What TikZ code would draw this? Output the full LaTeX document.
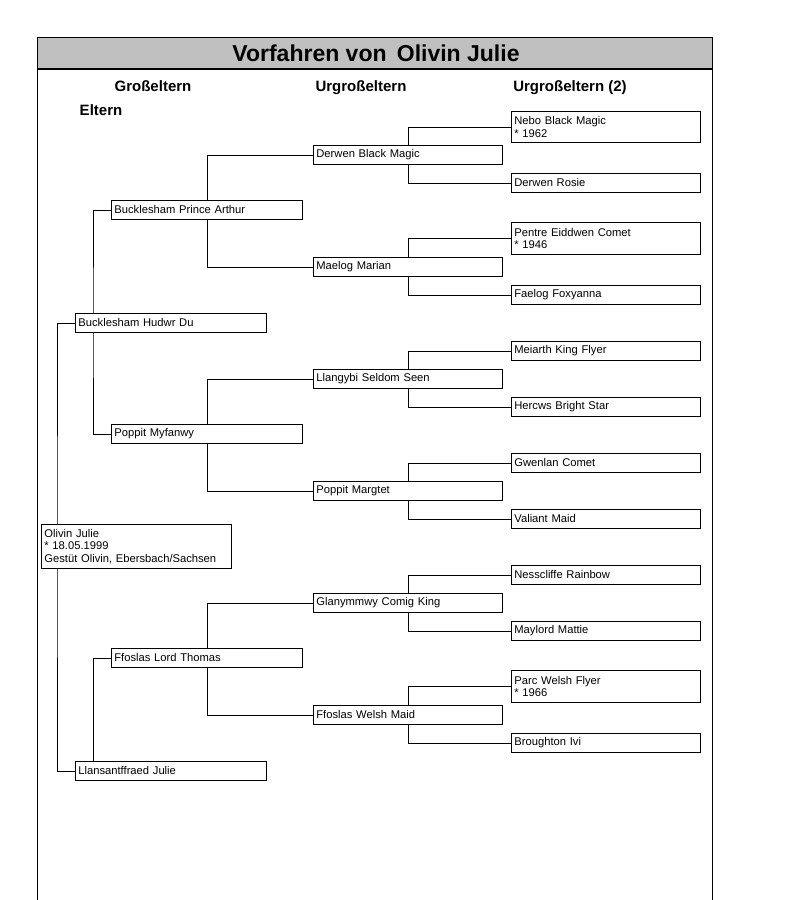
\documentclass[tikz,border=0pt]{standalone}
\usepackage{fontspec}
\setmainfont{Liberation Sans}
\usetikzlibrary{backgrounds}
\tikzset{
  x=1pt,y=-1pt,
  horse/.style={draw,line width=0.8pt,fill=white,anchor=north west,inner xsep=3pt,inner ysep=2pt,
    align=left,font=\fontsize{11.2}{12.5}\selectfont,minimum height=19pt},
  w190/.style={text width=184pt},
  w189/.style={text width=183pt},
  w191/.style={text width=185pt},
  conn/.style={line width=0.8pt},
  header/.style={font=\bfseries\fontsize{15}{17}\selectfont,anchor=base},
}
\begin{document}
\begin{tikzpicture}
\useasboundingbox (0,0) rectangle (793,900);
% frame and title bar
\path[fill={rgb,255:red,192;green,192;blue,192}] (37,37) rectangle (712,69);
\draw[line width=1pt] (37,900) -- (37,37) -- (712,37) -- (712,900);
\draw[line width=2pt] (37,69) -- (712,69);
\node[font=\bfseries\fontsize{23}{26}\selectfont] (title) at (376,53) {Vorfahren von\, Olivin Julie};
\node[header] (h1) at (153,91) {Großeltern};
\node[header] (h2) at (361,91) {Urgroßeltern};
\node[header] (h3) at (570,91) {Urgroßeltern (2)};
\node[header] (h0) at (101,115) {Eltern};

% column 0
\node[horse,w190,minimum height=44pt] (p0) at (41,524) {Olivin Julie\\{}* 18.05.1999\\{}Gestüt Olivin, Ebersbach/Sachsen};
% column 1
\node[horse,w191] (s1) at (75,313) {Bucklesham Hudwr Du};
\node[horse,w191] (d1) at (75,761) {Llansantffraed Julie};
% column 2
\node[horse,w191] (ss2) at (111,200) {Bucklesham Prince Arthur};
\node[horse,w191] (sd2) at (111,424) {Poppit Myfanwy};
\node[horse,w191] (ds2) at (111,648) {Ffoslas Lord Thomas};
% column 3
\node[horse,w189] (a3) at (313,145) {Derwen Black Magic};
\node[horse,w189] (b3) at (313,257) {Maelog Marian};
\node[horse,w189] (c3) at (313,369) {Llangybi Seldom Seen};
\node[horse,w189] (d3) at (313,481) {Poppit Margtet};
\node[horse,w189] (e3) at (313,593) {Glanymmwy Comig King};
\node[horse,w189] (f3) at (313,705) {Ffoslas Welsh Maid};
% column 4
\node[horse,w189,minimum height=31pt] (a4) at (511,111) {Nebo Black Magic\\{}* 1962};
\node[horse,w189] (b4) at (511,173) {Derwen Rosie};
\node[horse,w189,minimum height=32pt] (c4) at (511,222) {Pentre Eiddwen Comet\\{}* 1946};
\node[horse,w189] (d4) at (511,285) {Faelog Foxyanna};
\node[horse,w189] (e4) at (511,341) {Meiarth King Flyer};
\node[horse,w189] (f4) at (511,397) {Hercws Bright Star};
\node[horse,w189] (g4) at (511,453) {Gwenlan Comet};
\node[horse,w189] (h4) at (511,509) {Valiant Maid};
\node[horse,w189] (i4) at (511,565) {Nesscliffe Rainbow};
\node[horse,w189] (j4) at (511,621) {Maylord Mattie};
\node[horse,w189,minimum height=32pt] (k4) at (511,670) {Parc Welsh Flyer\\{}* 1966};
\node[horse,w189] (l4) at (511,733) {Broughton Ivi};

\begin{pgfonlayer}{background}
\draw[conn] (s1.west) -| ([xshift=16pt]p0.west) |- (d1.west);
\draw[conn] (ss2.west) -| ([xshift=18pt]s1.west) |- (sd2.west);
\draw[conn] (ds2.west) -| ([xshift=18pt]d1.north west);
\draw[conn] (a3.west) -| (ss2.center) |- (b3.west);
\draw[conn] (c3.west) -| (sd2.center) |- (d3.west);
\draw[conn] (e3.west) -| (ds2.center) |- (f3.west);
\draw[conn] (a4.west) -| (a3.center) |- (b4.west);
\draw[conn] (c4.west) -| (b3.center) |- (d4.west);
\draw[conn] (e4.west) -| (c3.center) |- (f4.west);
\draw[conn] (g4.west) -| (d3.center) |- (h4.west);
\draw[conn] (i4.west) -| (e3.center) |- (j4.west);
\draw[conn] (k4.west) -| (f3.center) |- (l4.west);
\end{pgfonlayer}
\end{tikzpicture}
\end{document}
